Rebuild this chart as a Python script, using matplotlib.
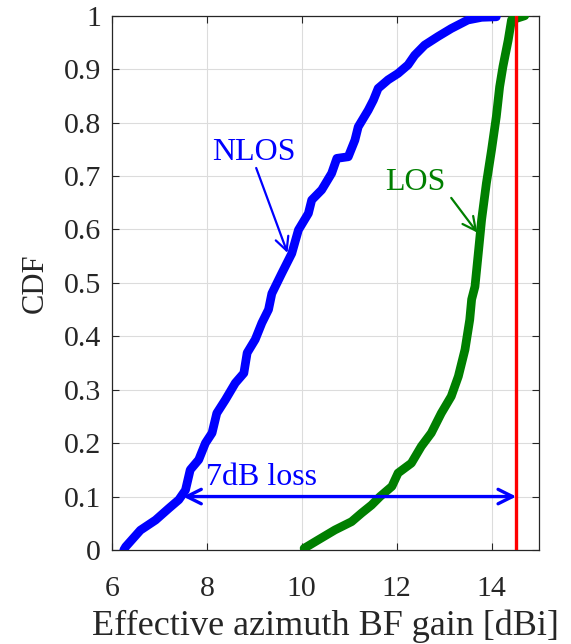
import numpy as np
import matplotlib.pyplot as plt
from matplotlib.ticker import FuncFormatter

plt.rcParams['font.family'] = ['Liberation Serif', 'DejaVu Serif']

# empirical CDF traces (gain in dBi, cumulative probability)
nlos_gain = [6.25, 6.29, 6.6, 6.92, 7.2, 7.41, 7.55, 7.65, 7.83, 7.97, 8.11, 8.21, 8.39,
             8.6, 8.78, 8.85, 9.02, 9.16, 9.3, 9.37, 9.58, 9.79, 9.93, 10.14, 10.21,
             10.42, 10.63, 10.74, 10.98, 11.12, 11.19, 11.4, 11.51, 11.61, 11.82, 12.03,
             12.24, 12.38, 12.59, 12.87, 13.15, 13.5, 13.79, 14.1]
nlos_cdf = [0.0, 0.006, 0.037, 0.056, 0.078, 0.094, 0.112, 0.15, 0.169, 0.2, 0.219, 0.256,
            0.281, 0.3125, 0.331, 0.369, 0.394, 0.425, 0.45, 0.48, 0.518, 0.555, 0.599,
            0.63, 0.655, 0.674, 0.705, 0.733, 0.736, 0.767, 0.792, 0.823, 0.842, 0.864,
            0.88, 0.892, 0.908, 0.926, 0.945, 0.961, 0.976, 0.992, 0.997, 0.998]

los_gain = [10.05, 10.35, 10.7, 11.05, 11.26, 11.47, 11.65, 11.9, 12.03, 12.31, 12.52,
            12.73, 12.94, 13.15, 13.3, 13.44, 13.54, 13.58, 13.65, 13.72, 13.79, 13.89,
            14.0, 14.1, 14.17, 14.24, 14.35, 14.42, 14.7]
los_cdf = [0.003, 0.019, 0.0375, 0.053, 0.069, 0.084, 0.1, 0.119, 0.144, 0.1625, 0.194,
           0.219, 0.256, 0.2875, 0.325, 0.375, 0.431, 0.469, 0.493, 0.555, 0.618, 0.686,
           0.749, 0.811, 0.867, 0.905, 0.954, 0.992, 1.0]

max_gain = 14.52
loss_level = 0.1
nlos_at_loss = 7.5

BLUE = '#0000ff'
GREEN = '#007f00'
INK = '#262626'

fig = plt.figure(figsize=(5.71, 6.44), dpi=100)
ax = fig.add_axes([0.196, 0.146, 0.748, 0.8296])

ax.plot(nlos_gain, nlos_cdf, color=BLUE, lw=6.3, solid_joinstyle='round',
        solid_capstyle='round', zorder=3)
ax.plot(los_gain, los_cdf, color=GREEN, lw=6.3, solid_joinstyle='round',
        solid_capstyle='round', zorder=3)
ax.axvline(max_gain, color='#ff0000', lw=2.4, zorder=4)

# 7 dB gap between NLOS and the maximum gain at the 10% level
ax.annotate('', xy=(nlos_at_loss, loss_level), xytext=(max_gain, loss_level),
            arrowprops=dict(arrowstyle='<->', color=BLUE, lw=2.4,
                            mutation_scale=26, shrinkA=0, shrinkB=0), zorder=5)
ax.text(7.98, 0.122, '7dB loss', color=BLUE, fontsize=23, ha='left', va='baseline')

ax.text(9.0, 0.73, 'NLOS', color=BLUE, fontsize=23, ha='center', va='baseline')
ax.annotate('', xy=(9.7, 0.556), xytext=(9.04, 0.715),
            arrowprops=dict(arrowstyle='->', color=BLUE, lw=1.6,
                            mutation_scale=24, shrinkA=0, shrinkB=0))
ax.text(12.4, 0.674, 'LOS', color=GREEN, fontsize=23, ha='center', va='baseline')
ax.annotate('', xy=(13.7, 0.594), xytext=(13.15, 0.659),
            arrowprops=dict(arrowstyle='->', color=GREEN, lw=1.6,
                            mutation_scale=24, shrinkA=0, shrinkB=0))

ax.set_xlim(6, 15)
ax.set_ylim(0, 1)
ax.set_xticks([6, 8, 10, 12, 14])
ax.set_yticks(np.arange(0, 1.01, 0.1))
ax.yaxis.set_major_formatter(FuncFormatter(lambda v, _: f'{v:g}'))
ax.grid(True, color='#dcdcdc', lw=0.8)
ax.set_axisbelow(True)
ax.tick_params(direction='in', top=True, right=True, labelsize=21.5, length=5,
               colors=INK)
ax.tick_params(axis='x', pad=19)
ax.tick_params(axis='y', pad=8)
for s in ax.spines.values():
    s.set_color(INK)
    s.set_linewidth(0.9)

ax.set_xlabel('Effective azimuth BF gain [dBi]', fontsize=26, color=INK, labelpad=5)
ax.set_ylabel('CDF', fontsize=22, color=INK, labelpad=10)

fig.savefig('out.png', dpi=100, facecolor='white')
